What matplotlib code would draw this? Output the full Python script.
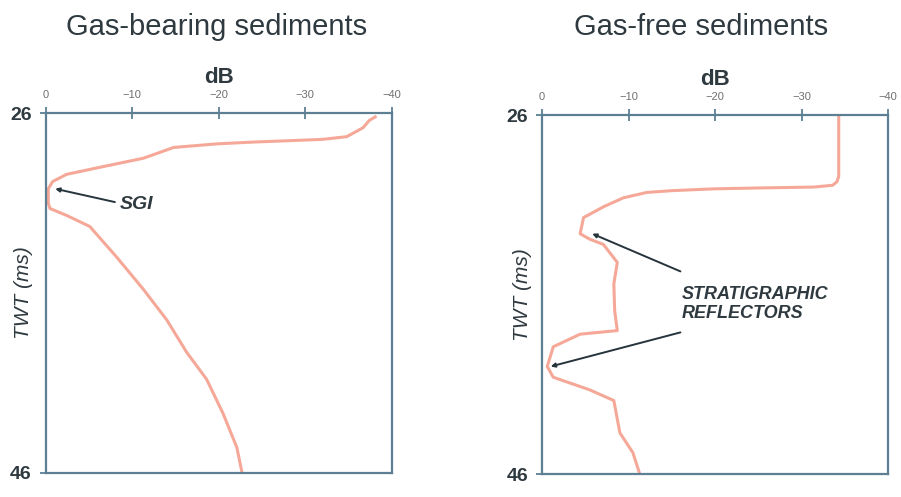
import matplotlib.pyplot as plt

plt.rcParams['font.family'] = ['Liberation Sans', 'DejaVu Sans']

# Gas-bearing sediments: attenuation (dB, below 0) against two-way time
gb_db = [38.1, 37.4, 36.7, 34.8, 32.0, 29.4, 24.0, 19.8, 14.8, 11.3, 6.3, 2.4,
         0.8, 0.3, 0.3, 0.5, 2.5, 5.1, 8.2, 11.3, 14.0, 16.3, 18.6, 20.5, 22.1, 22.7]
gb_twt = [26.2, 26.4, 26.8, 27.3, 27.45, 27.5, 27.6, 27.7, 27.9, 28.5, 29.0, 29.4,
          29.8, 30.2, 31.0, 31.3, 31.7, 32.3, 34.0, 35.8, 37.5, 39.3, 40.8, 42.7, 44.6, 46.0]

# Gas-free sediments
gf_db = [34.3, 34.3, 34.1, 33.6, 31.4, 25.0, 19.8, 15.0, 12.1, 9.4, 7.1, 4.8,
         4.4, 5.5, 7.1, 8.7, 8.3, 8.4, 8.7, 6.5, 4.4, 1.3, 0.6, 1.3, 5.5, 8.3,
         9.0, 10.5, 11.3]
gf_twt = [26.0, 29.4, 29.7, 29.9, 30.0, 30.05, 30.1, 30.2, 30.3, 30.6, 31.1, 31.7,
          32.6, 32.9, 33.2, 34.2, 35.4, 36.9, 38.0, 38.1, 38.2, 38.9, 40.0, 40.6,
          41.3, 41.9, 43.7, 44.8, 46.0]

x_ticks = [0, -10, -20, -30, -40]
y_ticks = [26, 46]

curve_col = '#f5a898'
spine_col = '#5c7f94'
text_col = '#2f3a40'
arrow_col = '#26343c'

fig = plt.figure(figsize=(9.01, 4.97), dpi=100)
ax1 = fig.add_axes([0.0507, 0.049, 0.384, 0.723])
ax2 = fig.add_axes([0.6016, 0.046, 0.384, 0.722])

fig.text(0.240, 0.945, 'Gas-bearing sediments', fontsize=21, color=text_col,
         ha='center', va='center')
fig.text(0.778, 0.945, 'Gas-free sediments', fontsize=21, color=text_col,
         ha='center', va='center')

for ax, db, twt, lab_x in [(ax1, gb_db, gb_twt, -0.037), (ax2, gf_db, gf_twt, -0.03)]:
    ax.plot([-v for v in db], twt, color=curve_col, lw=2.2)
    ax.set_xlim(0, -40)
    ax.set_ylim(46, 26)
    ax.xaxis.tick_top()
    ax.xaxis.set_label_position('top')
    ax.set_xticks(x_ticks)
    ax.set_xticklabels([str(t).replace('-', '\u2212') for t in x_ticks])
    ax.set_yticks(y_ticks)
    ax.tick_params(axis='x', direction='inout', length=9, width=1.3, color=spine_col,
                   labelsize=8, labelcolor='#707070', pad=5)
    ax.tick_params(axis='y', direction='out', length=4, width=1.3, color=spine_col,
                   labelsize=14, labelcolor=text_col, pad=6)
    for lab in ax.get_yticklabels():
        lab.set_fontweight('bold')
    for s in ax.spines.values():
        s.set_color(spine_col)
        s.set_linewidth(1.6)
    ax.set_xlabel('dB', fontsize=16, fontweight='bold', color=text_col, labelpad=5)
    ax.set_ylabel('TWT (ms)', fontsize=15, fontstyle='italic', color=text_col)
    ax.yaxis.set_label_coords(lab_x, 0.5)

arrow = dict(arrowstyle='-|>', color=arrow_col, lw=1.4, mutation_scale=6,
             shrinkA=0, shrinkB=0)

# SGI annotation
ax1.annotate('', xy=(-1.1, 30.2), xytext=(-8.0, 30.94), arrowprops=arrow)
ax1.text(-8.6, 31.07, 'SGI', fontsize=14, fontweight='bold', fontstyle='italic',
         color=text_col, ha='left', va='center')

# Stratigraphic reflectors annotation
ax2.annotate('', xy=(-5.8, 32.6), xytext=(-16.0, 34.7), arrowprops=arrow)
ax2.annotate('', xy=(-1.0, 40.0), xytext=(-16.0, 38.1), arrowprops=arrow)
ax2.text(-16.2, 36.5, 'STRATIGRAPHIC\nREFLECTORS', fontsize=13, fontweight='bold',
         fontstyle='italic', color=text_col, ha='left', va='center', linespacing=1.15)

fig.savefig('out.png', dpi=100)
